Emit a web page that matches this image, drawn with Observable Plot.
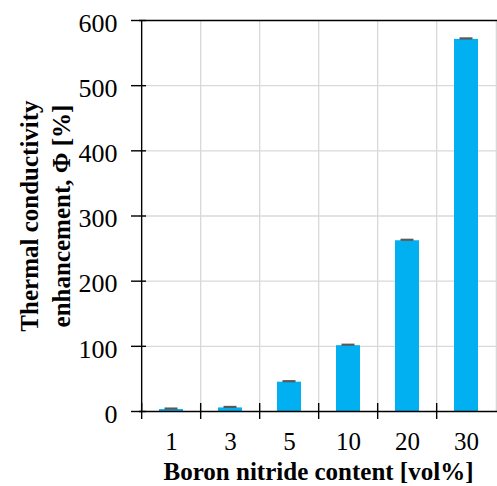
<!DOCTYPE html>
<html><head><meta charset="utf-8">
<script src="https://cdn.jsdelivr.net/npm/d3@7"></script>
<script src="https://cdn.jsdelivr.net/npm/@observablehq/plot@0.6"></script>
<style>body{margin:0;background:#fff}</style>
</head><body><div id="chart"></div>
<script>
const categories = ["1", "3", "5", "10", "20", "30"];
const values = [3, 5.5, 45, 101, 262, 571];
const errors = [1.5, 1.5, 1.5, 1.5, 1.5, 1.5];
const yTicks = [0, 100, 200, 300, 400, 500, 600];
const xTitle = "Boron nitride content [vol%]";
const yTitle = "Thermal conductivity\nenhancement, Φ [%]";

const data = categories.map((c, i) => ({cat: c, v: values[i], e: errors[i]}));
const W = 497, H = 486, mL = 139, mR = 0, mT = 20, mB = 75;
const step = (W - mL - mR) / categories.length;
const last = categories[categories.length - 1];

const chart = Plot.plot({
  width: W, height: H,
  marginLeft: mL, marginRight: mR, marginTop: mT, marginBottom: mB,
  style: {fontFamily: "Liberation Serif", fontSize: "26px", color: "black", background: "white", overflow: "visible"},
  x: {type: "band", domain: categories, paddingInner: 0.6, paddingOuter: 0.3, label: null},
  y: {domain: [0, 600], label: null},
  marks: [
    Plot.ruleY(yTicks.slice(1, -1), {stroke: "#d9d9d9", strokeWidth: 1.3}),
    Plot.ruleX(categories.slice(1), {x: d => d, dx: -step / 2, y1: 0, y2: 600, stroke: "#d9d9d9", strokeWidth: 1.3}),
    Plot.ruleX([last], {x: d => d, dx: step / 2, y1: 0, y2: 600, stroke: "#d9d9d9", strokeWidth: 1.3}),
    Plot.barY(data, {x: "cat", y: "v", fill: "#00B0F0"}),
    Plot.ruleX(data, {x: "cat", y1: "v", y2: d => d.v + d.e, stroke: "#595959", strokeWidth: 1}),
    Plot.tickY(data, {x: "cat", y: d => d.v + d.e, stroke: "#595959", strokeWidth: 2.2, insetLeft: 5.5, insetRight: 5.5}),
    Plot.ruleY([0, 600], {stroke: "black", strokeWidth: 1.4}),
    Plot.ruleX([categories[0]], {x: d => d, dx: -step / 2, y1: 0, y2: 600, stroke: "black", strokeWidth: 1.4}),
    Plot.ruleX(categories, {x: d => d, dx: -step / 2, y1: 0, y2: 0, insetTop: -8, insetBottom: -8, stroke: "black", strokeWidth: 1.4}),
    Plot.axisY(yTicks, {tickSize: 15, dx: 7, text: null, stroke: "black", strokeWidth: 1.4}),
    Plot.axisY(yTicks, {tickSize: 0, tickPadding: 22, dy: 3, fontSize: 26, label: null}),
    Plot.axisX({tickSize: 0, tickPadding: 21, fontSize: 25, label: null}),
    Plot.text([xTitle], {frameAnchor: "bottom", dy: 60, fontWeight: "bold", fontSize: 25, lineAnchor: "middle"}),
    Plot.text([yTitle], {frameAnchor: "left", dx: -96, rotate: -90, textAnchor: "middle", fontWeight: "bold", fontSize: 25, lineAnchor: "middle", lineHeight: 1.28})
  ]
});
document.getElementById("chart").append(chart);
</script>
</body></html>
